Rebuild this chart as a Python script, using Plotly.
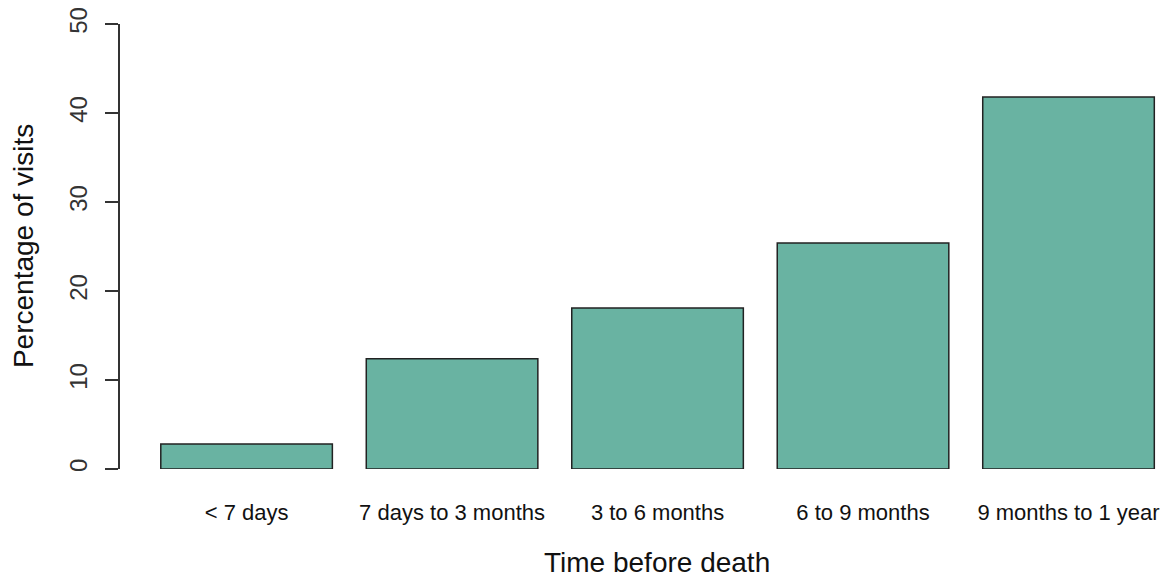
import plotly.graph_objects as go

categories = ["< 7 days", "7 days to 3 months", "3 to 6 months", "6 to 9 months", "9 months to 1 year"]
percentages = [2.8, 12.4, 18.1, 25.4, 41.8]
y_ticks = [0, 10, 20, 30, 40, 50]

fig = go.Figure(go.Bar(
    x=categories,
    y=percentages,
    width=0.835,
    marker=dict(color="#69B3A2", line=dict(color="#222222", width=1.5)),
))

font_family = "Liberation Sans, Arial, sans-serif"
fig.update_layout(
    width=1169, height=579,
    margin=dict(l=112, r=8, t=16, b=118),
    plot_bgcolor="white", paper_bgcolor="white",
    font=dict(family=font_family, color="#111111"),
    showlegend=False,
    xaxis=dict(
        range=[-0.616, 4.489],
        automargin=False,
        showline=False, showgrid=False, zeroline=False, ticks="",
        tickfont=dict(size=22, color="#111111"),
        ticklabelstandoff=28,
    ),
    yaxis=dict(
        range=[0, 50],
        automargin=False,
        tickvals=y_ticks,
        ticklabeloverflow="allow",
        showline=True, linecolor="#333333", linewidth=1.5,
        ticks="outside", ticklen=13, tickwidth=1.5, tickcolor="#333333",
        showgrid=False, zeroline=False,
        tickangle=-90,
        tickfont=dict(size=24, color="#333333"),
        ticklabelstandoff=9,
    ),
    annotations=[
        dict(text="Time before death", xref="paper", yref="paper", x=0.512, y=-0.2500,
             xanchor="center", yanchor="bottom", showarrow=False,
             font=dict(size=28, color="#111111")),
        dict(text="Percentage of visits", xref="paper", yref="paper", x=-0.1087, y=0.502,
             xanchor="left", yanchor="middle", showarrow=False, textangle=-90,
             font=dict(size=28, color="#111111")),
    ],
)

fig.write_html("out.html")
